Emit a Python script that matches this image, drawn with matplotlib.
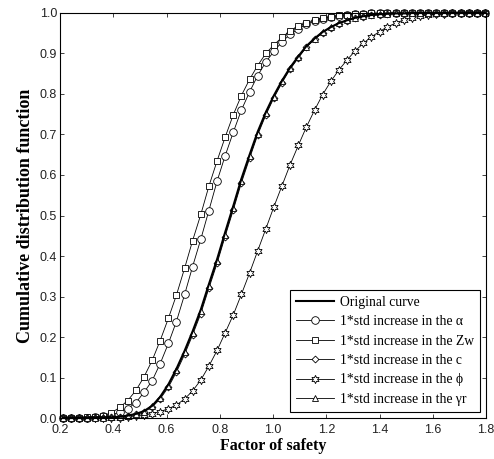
# -*- coding: utf-8 -*-

# 安全率の累積分布関数（感度解析）のグラフ
import numpy as np
import matplotlib
matplotlib.use("Agg")
import matplotlib.pyplot as plt

# --------------------
# データ
# --------------------

# 安全率（横軸）
factor_of_safety = [
    0.210, 0.241, 0.271, 0.302, 0.332, 0.363, 0.393, 0.424, 0.454, 0.485,
    0.515, 0.546, 0.576, 0.607, 0.637, 0.668, 0.698, 0.729, 0.759, 0.790,
    0.820, 0.851, 0.881, 0.912, 0.942, 0.973, 1.003, 1.034, 1.064, 1.095,
    1.125, 1.156, 1.186, 1.217, 1.247, 1.278, 1.308, 1.339, 1.369, 1.400,
    1.430, 1.461, 1.491, 1.522, 1.552, 1.583, 1.613, 1.644, 1.674, 1.705,
    1.735, 1.766, 1.796]

# 元の曲線
cdf_original = [
    0.000, 0.000, 0.000, 0.000, 0.001, 0.001, 0.002, 0.003, 0.006, 0.010,
    0.017, 0.030, 0.052, 0.083, 0.121, 0.166, 0.214, 0.268, 0.330, 0.392,
    0.458, 0.524, 0.590, 0.650, 0.706, 0.755, 0.796, 0.833, 0.865, 0.893,
    0.918, 0.937, 0.953, 0.965, 0.975, 0.982, 0.988, 0.992, 0.995, 0.997,
    0.998, 0.999, 0.999, 1.000, 1.000, 1.000, 1.000, 1.000, 1.000, 1.000,
    1.000, 1.000, 1.000]

# alpha を 1*std 増加
cdf_alpha = [
    0.000, 0.000, 0.000, 0.001, 0.002, 0.004, 0.008, 0.014, 0.023, 0.038,
    0.063, 0.092, 0.134, 0.184, 0.238, 0.305, 0.374, 0.442, 0.512, 0.585,
    0.647, 0.706, 0.760, 0.805, 0.845, 0.879, 0.905, 0.929, 0.947, 0.961,
    0.972, 0.980, 0.986, 0.990, 0.993, 0.995, 0.997, 0.998, 0.999, 0.999,
    1.000, 1.000, 1.000, 1.000, 1.000, 1.000, 1.000, 1.000, 1.000, 1.000,
    1.000, 1.000, 1.000]

# Zw を 1*std 増加
cdf_zw = [
    0.000, 0.000, 0.001, 0.002, 0.003, 0.006, 0.013, 0.026, 0.043, 0.068,
    0.101, 0.142, 0.191, 0.246, 0.303, 0.370, 0.438, 0.503, 0.572, 0.635,
    0.693, 0.749, 0.796, 0.836, 0.870, 0.900, 0.921, 0.940, 0.956, 0.968,
    0.976, 0.983, 0.988, 0.991, 0.994, 0.996, 0.997, 0.998, 0.999, 0.999,
    1.000, 1.000, 1.000, 1.000, 1.000, 1.000, 1.000, 1.000, 1.000, 1.000,
    1.000, 1.000, 1.000]

# c を 1*std 増加
cdf_c = [
    0.000, 0.000, 0.000, 0.000, 0.001, 0.001, 0.002, 0.003, 0.005, 0.009,
    0.015, 0.027, 0.047, 0.076, 0.113, 0.157, 0.205, 0.258, 0.320, 0.382,
    0.448, 0.514, 0.580, 0.641, 0.698, 0.748, 0.790, 0.828, 0.861, 0.889,
    0.915, 0.935, 0.951, 0.964, 0.974, 0.981, 0.987, 0.991, 0.994, 0.996,
    0.998, 0.999, 0.999, 1.000, 1.000, 1.000, 1.000, 1.000, 1.000, 1.000,
    1.000, 1.000, 1.000]

# phi を 1*std 増加
cdf_phi = [
    0.000, 0.000, 0.000, 0.000, 0.000, 0.000, 0.001, 0.001, 0.002, 0.004,
    0.007, 0.011, 0.016, 0.023, 0.032, 0.047, 0.067, 0.094, 0.128, 0.167,
    0.210, 0.255, 0.305, 0.358, 0.412, 0.467, 0.521, 0.574, 0.625, 0.673,
    0.718, 0.760, 0.798, 0.831, 0.859, 0.884, 0.906, 0.925, 0.941, 0.954,
    0.966, 0.975, 0.983, 0.988, 0.992, 0.995, 0.997, 0.998, 0.999, 0.999,
    1.000, 1.000, 1.000]

# gamma_r を 1*std 増加
cdf_gr = [
    0.000, 0.000, 0.000, 0.000, 0.001, 0.001, 0.002, 0.003, 0.006, 0.010,
    0.016, 0.029, 0.050, 0.080, 0.118, 0.162, 0.210, 0.263, 0.325, 0.387,
    0.453, 0.519, 0.585, 0.646, 0.702, 0.752, 0.793, 0.831, 0.863, 0.891,
    0.917, 0.936, 0.952, 0.965, 0.975, 0.982, 0.988, 0.992, 0.995, 0.997,
    0.998, 0.999, 0.999, 1.000, 1.000, 1.000, 1.000, 1.000, 1.000, 1.000,
    1.000, 1.000, 1.000]

labels = ["Original curve",
          "1*std increase in the \u03b1",
          "1*std increase in the Zw",
          "1*std increase in the c",
          "1*std increase in the \u03d5",
          "1*std increase in the \u03b3r"]

x_ticks = [0.2, 0.4, 0.6, 0.8, 1.0, 1.2, 1.4, 1.6, 1.8]
y_ticks = [0.0, 0.1, 0.2, 0.3, 0.4, 0.5, 0.6, 0.7, 0.8, 0.9, 1.0]

serif = ["Liberation Serif", "DejaVu Serif"]

# --------------------
# グラフを描く
# --------------------
fig = plt.figure(figsize=(4.94, 4.59), dpi=100)
ax = fig.add_axes([0.1215, 0.0893, 0.8623, 0.8824])

# 細線 + 白抜きマーカーの共通スタイル
common = dict(color="black", linewidth=0.6, markerfacecolor="white",
              markeredgecolor="black", markeredgewidth=0.6, clip_on=False)

ax.plot(factor_of_safety, cdf_original, color="black", linewidth=1.5,
        label=labels[0], clip_on=False, zorder=3)
ax.plot(factor_of_safety, cdf_alpha, marker="o", markersize=5.5,
        label=labels[1], **common)
ax.plot(factor_of_safety, cdf_zw, marker="s", markersize=3.8,
        label=labels[2], **common)
ax.plot(factor_of_safety, cdf_c, marker="D", markersize=3.5,
        label=labels[3], **common)
ax.plot(factor_of_safety, cdf_phi, marker=(6, 1, 0), markersize=6,
        label=labels[4], **common)
ax.plot(factor_of_safety, cdf_gr, marker="^", markersize=4.5,
        label=labels[5], **common)

ax.set_xlim(0.2, 1.8)
ax.set_ylim(0.0, 1.0)
ax.set_xticks(x_ticks)
ax.set_yticks(y_ticks)
ax.set_xticklabels(["%.1f" % v for v in x_ticks], fontfamily="Liberation Sans", fontsize=9)
ax.set_yticklabels(["%.1f" % v for v in y_ticks], fontfamily="Liberation Sans", fontsize=9)
ax.tick_params(direction="in", top=True, right=True, length=3, width=0.6, colors="#222222")
ax.tick_params(axis="x", pad=4)
ax.tick_params(axis="y", pad=2)
for s in ax.spines.values():
    s.set_linewidth(0.8)

ax.set_xlabel("Factor of safety", family=serif, fontweight="bold", fontsize=11.5, labelpad=2)
ax.set_ylabel("Cumulative distribution function", family=serif, fontweight="bold",
              fontsize=13, labelpad=4)

leg = ax.legend(loc="lower right", bbox_to_anchor=(0.986, 0.015), numpoints=1,
                prop={"family": serif, "size": 9.8}, fancybox=False, framealpha=1,
                edgecolor="black", handlelength=2.8, handletextpad=0.4,
                labelspacing=0.47, borderpad=0.45, borderaxespad=0.0)
leg.get_frame().set_linewidth(0.8)

fig.savefig("out.png", dpi=100)
